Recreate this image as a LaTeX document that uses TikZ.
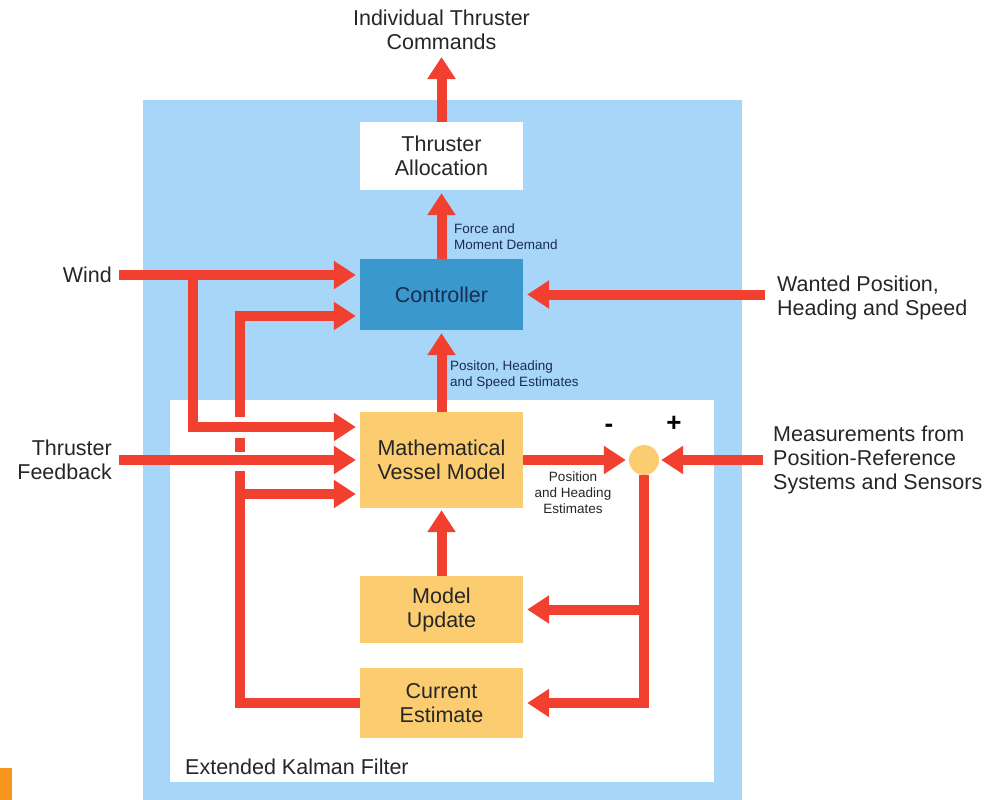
\documentclass[tikz,border=0pt]{standalone}
\usepackage{fontspec}
\setmainfont{Liberation Sans}
\usetikzlibrary{arrows.meta}

\definecolor{skyblue}{RGB}{168,214,248}
\definecolor{ctrlblue}{RGB}{58,152,204}
\definecolor{boxorange}{RGB}{251,204,112}
\definecolor{flowred}{RGB}{242,64,48}
\definecolor{txtgray}{RGB}{38,38,38}
\definecolor{navy}{RGB}{25,45,80}
\definecolor{markorange}{RGB}{246,150,30}

\begin{document}
\begin{tikzpicture}[x=1pt,y=-1pt,
    block/.style={minimum width=163pt,inner sep=0pt,align=center,text=txtgray,
      font=\fontsize{21.5}{24}\selectfont},
    biglbl/.style={inner sep=0pt,text=txtgray,font=\fontsize{21.5}{24}\selectfont},
    smalllbl/.style={inner sep=0pt,text=navy,font=\fontsize{13.5}{16}\selectfont},
    signlbl/.style={inner sep=0pt,text=black,font=\fontsize{26}{26}\selectfont\bfseries},
    flow/.style={draw=flowred,line width=10pt,-{Triangle[width=27pt,length=22pt]},shorten >=4pt}]
    \useasboundingbox (0,0) rectangle (990,800);

    % background panels
    \fill [skyblue] (143,100) rectangle (742,800);
    \fill [white] (170,400) rectangle (714,782);
    \fill [markorange] (0,768) rectangle (12,800);

    % blocks
    \node [block,fill=white,minimum height=68pt] (ta) at (441.5,156) {Thruster\\Allocation};
    \node [block,fill=ctrlblue,minimum height=71pt,text=navy] (ctrl) at (441.5,294.5) {Controller};
    \node [block,fill=boxorange,minimum height=96pt] (mvm) at (441.5,460) {Mathematical\\Vessel Model};
    \node [block,fill=boxorange,minimum height=67pt] (mu) at (441.5,609.5) {Model\\Update};
    \node [block,fill=boxorange,minimum height=70pt] (ce) at (441.5,703) {Current\\Estimate};
    \node [circle,fill=boxorange,minimum size=30pt,inner sep=0pt] (sum) at (644,460) {};

    % outside labels
    \node [biglbl,align=center] (cmds) at (441.5,30) {Individual Thruster\\Commands};
    \coordinate (cmdtip) at (441.5,57);
    \node [biglbl,anchor=east] (wind) at (112,275) {Wind};
    \node [biglbl,anchor=east,align=right] (fb) at (112,460) {Thruster\\Feedback};
    \node [biglbl,anchor=west,align=left] (wanted) at (777,298) {Wanted Position,\\Heading and Speed};
    \node [biglbl,anchor=west,align=left] (meas) at (773,460) {Measurements from\\Position-Reference\\Systems and Sensors};
    \node [biglbl,anchor=west] (ekf) at (185,767) {Extended Kalman Filter};
    \node [signlbl] (minus) at (609,428) {-};
    \node [signlbl] (plus) at (674,424) {+};

    % small labels
    \node [smalllbl,anchor=west,align=left] (fmd) at (454,237) {Force and\\Moment Demand};
    \node [smalllbl,anchor=west,align=left] (phs) at (450,375) {Positon, Heading\\and Speed Estimates};
    \node [smalllbl,align=center,text=txtgray] (phe) at (573,493) {Position\\and Heading\\Estimates};

    % main chain
    \draw [flow,shorten >=0pt] (ta.north) -- (cmdtip);
    \draw [flow,shorten >=3pt] (ctrl.north) -- (ta.south);
    \draw [flow,shorten >=3pt] (mvm.north) -- (ctrl.south);
    \draw [flow,shorten >=2pt] (mu.north) -- (mvm.south);

    % estimate feedback (broken where it crosses)
    \coordinate (wj) at (193,275);
    \coordinate (fj) at (240,494);
    \draw [flow] (ce.west) -| (240,316) -- (ctrl.west |- 0,316);
    \fill [white] (234,416.5) rectangle (246,437.5);
    \fill [white] (234,451.5) rectangle (246,471);
    \draw [flow] (fj) -- (mvm.west |- fj);

    % external inputs
    \draw [flow,shorten <=7pt] (wind.east) -- (ctrl.west |- wind.east);
    \draw [flow] (wj) |- (mvm.west |- 0,427);
    \draw [flow,shorten <=7pt] (fb.east) -- (mvm.west);
    \draw [flow,shorten <=12pt] (wanted.west |- ctrl.east) -- (ctrl.east);

    % innovation loop
    \draw [flow,shorten >=3pt] (mvm.east) -- (sum.west);
    \draw [flow,shorten <=10pt,shorten >=2pt] (meas.west) -- (sum.east);
    \draw [flow] (sum.south) |- (ce.east);
    \draw [flow] (sum.south |- mu.east) -- (mu.east);
\end{tikzpicture}
\end{document}
